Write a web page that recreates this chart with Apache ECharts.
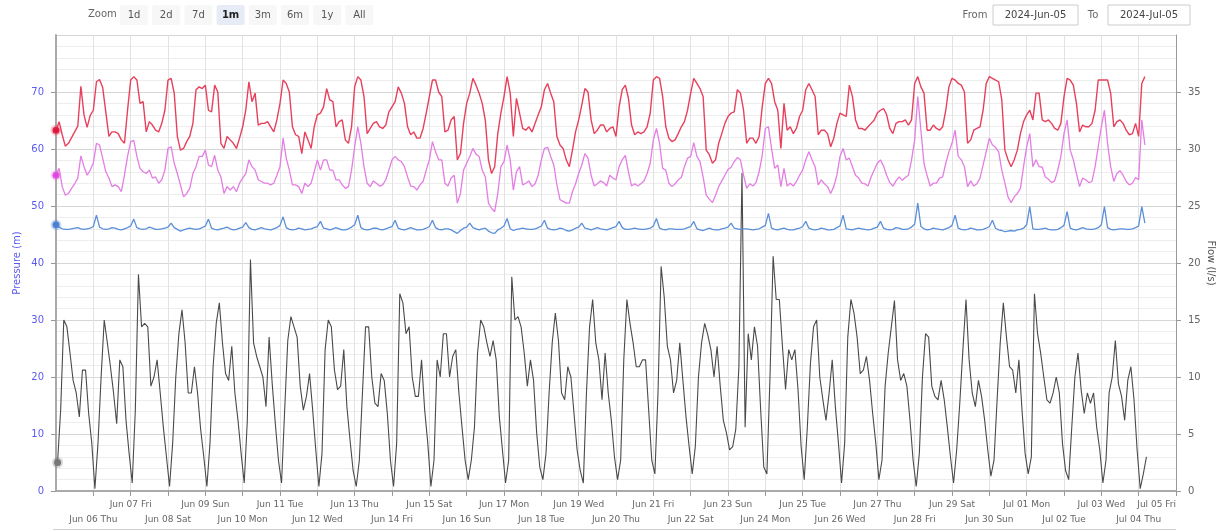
<!DOCTYPE html>
<html>
<head>
<meta charset="utf-8">
<script src="https://cdn.jsdelivr.net/npm/echarts@6/dist/echarts.min.js"></script>
<style>
html,body{margin:0;padding:0;background:#fff;}
#chart{width:1216px;height:531px;}
</style>
</head>
<body>
<div id="chart"></div>
<script>
// ---- time base ----
const startTime = Date.UTC(2024, 5, 5);   // 2024-Jun-05 00:00
const endTime = Date.UTC(2024, 6, 5);     // 2024-Jul-05 00:00
const DAY = 86400000;
const HOUR = 3600000;

// ---- tick labels (one per day tick) ----
const dayLabels = [
  'Jun 05 Wed','Jun 06 Thu','Jun 07 Fri','Jun 08 Sat','Jun 09 Sun','Jun 10 Mon','Jun 11 Tue',
  'Jun 12 Wed','Jun 13 Thu','Jun 14 Fri','Jun 15 Sat','Jun 16 Sun','Jun 17 Mon','Jun 18 Tue',
  'Jun 19 Wed','Jun 20 Thu','Jun 21 Fri','Jun 22 Sat','Jun 23 Sun','Jun 24 Mon','Jun 25 Tue',
  'Jun 26 Wed','Jun 27 Thu','Jun 28 Fri','Jun 29 Sat','Jun 30 Sun','Jul 01 Mon','Jul 02 Tue',
  'Jul 03 Wed','Jul 04 Thu','Jul 05 Fri'
];

// ---- pressure series (m), every 2 h from Jun 05 00:00 ----
const pressureRed = [
  63.3,64.8,62.5,60.5,61.0,62.0,63.0,64.0,71.0,66.0,63.8,65.9,
  66.8,71.8,72.2,70.8,66.5,62.2,63.0,63.0,62.7,61.6,61.0,66.8,
  72.1,72.7,72.1,68.0,68.3,63.0,64.8,64.2,63.3,63.0,64.5,66.8,
  72.1,72.4,69.8,62.2,59.8,60.1,61.3,62.2,64.5,70.4,70.9,70.6,
  71.2,66.8,66.5,71.2,70.0,61.0,60.1,62.2,61.6,61.0,60.1,61.9,
  63.9,66.8,71.8,68.3,69.8,64.2,64.5,64.5,64.8,63.9,63.0,65.1,
  68.0,72.1,71.5,70.0,63.9,62.5,62.2,59.2,63.0,61.6,60.1,63.9,
  66.0,66.3,67.4,70.6,68.6,68.3,63.9,64.8,65.1,61.6,61.0,63.9,
  70.9,72.7,72.1,69.2,62.7,63.6,64.5,64.8,63.9,63.6,64.2,66.5,
  67.4,68.3,70.9,69.8,68.0,63.9,62.5,63.0,61.9,61.9,63.6,66.3,
  69.2,72.1,72.1,70.0,69.2,63.0,63.3,65.1,65.7,58.1,59.2,64.5,
  68.0,69.8,72.4,71.2,69.8,68.0,65.0,58.1,55.7,56.9,62.7,66.3,
  69.2,72.7,69.8,62.2,68.9,66.3,63.6,63.3,63.9,63.0,64.5,66.0,
  67.4,70.4,71.5,69.8,68.3,62.2,60.7,60.1,58.1,56.9,59.8,63.0,
  65.1,67.7,70.6,70.0,65.1,62.7,63.3,64.2,64.2,63.0,63.6,63.9,
  62.2,67.4,70.4,71.2,68.9,64.2,62.5,63.0,62.7,63.0,63.9,66.3,
  72.1,72.7,72.4,69.2,63.9,61.9,61.3,61.6,62.7,63.9,64.8,66.8,
  69.8,72.4,71.5,70.6,69.2,59.8,59.0,57.5,58.1,61.0,62.7,64.5,
  65.7,66.3,66.5,70.4,69.8,66.8,61.0,61.9,61.9,61.0,62.2,67.4,
  71.5,72.4,71.5,68.3,66.8,60.1,68.0,63.3,63.9,62.7,63.6,65.7,
  66.8,70.4,71.5,70.4,69.2,62.5,63.3,63.3,62.7,60.4,61.9,64.5,
  66.3,66.0,65.7,71.2,69.2,65.1,63.6,63.6,63.3,63.9,64.5,65.1,
  66.3,66.8,67.1,66.0,63.6,62.7,64.5,64.8,64.8,65.1,64.2,65.1,
  71.5,72.7,70.9,69.8,63.3,63.3,64.2,63.6,63.3,63.9,66.8,70.9,
  72.4,72.1,71.5,71.2,70.0,61.0,61.6,63.3,63.6,63.9,66.8,71.5,
  72.7,72.4,72.1,71.8,68.6,59.8,58.1,56.9,58.1,59.8,62.7,64.8,
  66.0,66.8,65.1,69.8,69.8,65.1,64.8,65.1,64.5,63.6,63.3,64.5,
  69.2,72.4,72.1,71.2,68.0,63.0,64.2,63.9,63.9,64.5,66.8,72.1,
  72.1,72.1,72.1,69.8,63.9,64.8,65.1,64.5,63.3,62.5,62.7,64.5,
  62.2,71.5,72.7
];

const pressureMagenta = [
  55.4,56.6,53.4,51.9,52.2,53.1,53.9,54.9,58.8,56.9,55.4,56.3,
  57.5,61.0,60.7,58.4,56.0,54.9,53.4,53.7,53.4,52.5,55.4,58.7,
  61.3,61.5,58.7,56.6,56.0,55.7,56.3,54.9,55.1,54.0,54.6,56.3,
  60.1,60.4,57.5,55.7,53.7,51.6,52.2,53.1,55.7,56.9,58.7,58.7,
  59.8,57.2,56.9,58.9,56.3,55.1,52.2,53.4,52.8,53.4,52.5,54.0,
  54.9,55.7,58.1,56.9,56.3,54.6,54.3,54.0,54.0,53.7,54.0,55.4,
  56.9,61.9,58.4,56.3,53.7,53.7,53.4,52.2,54.0,53.4,54.0,56.0,
  58.1,56.3,58.1,58.1,56.3,56.3,54.6,54.6,53.7,53.1,53.4,56.3,
  60.4,63.9,61.0,56.9,54.0,53.4,54.4,54.0,53.5,53.7,54.6,56.3,
  58.1,58.7,58.1,57.8,56.9,55.1,53.5,53.4,52.8,53.7,54.3,56.3,
  58.1,61.3,59.5,58.1,58.1,54.0,53.5,54.9,55.4,50.5,52.2,56.3,
  57.5,58.7,60.1,59.1,58.7,56.3,55.1,50.5,49.6,49.0,52.2,56.9,
  57.8,60.7,58.1,52.8,56.0,56.9,53.7,54.0,54.4,53.4,53.9,55.4,
  58.1,60.1,60.3,58.7,57.2,53.7,51.1,50.8,50.5,50.5,52.5,53.9,
  55.7,57.2,59.2,58.4,55.4,53.5,53.9,54.4,54.1,53.5,55.4,54.9,
  54.6,56.9,58.1,58.9,56.0,53.5,53.9,53.5,53.9,54.4,55.7,57.5,
  61.6,63.6,61.0,56.6,56.3,54.0,53.4,53.9,54.6,55.0,56.9,58.4,
  58.7,61.1,58.7,57.8,55.1,51.9,51.2,50.6,51.9,53.4,54.4,55.4,
  56.4,56.8,57.8,58.5,58.1,55.4,53.1,53.9,53.5,54.1,56.0,58.9,
  63.6,63.9,60.1,56.6,57.2,53.4,56.6,53.5,54.0,53.5,54.3,55.4,
  56.3,58.1,59.5,58.1,56.9,53.7,54.6,53.9,53.4,52.2,53.4,55.4,
  58.7,60.1,58.1,58.4,56.9,55.4,54.9,54.0,53.9,53.5,55.1,56.3,
  57.5,58.1,57.0,55.4,54.1,53.5,54.4,55.1,54.5,55.0,55.4,58.1,
  61.6,69.2,63.3,57.5,55.3,53.5,54.0,54.0,54.9,55.1,57.5,59.5,
  61.0,63.3,58.7,58.1,56.9,53.4,54.4,53.5,53.9,54.9,57.2,59.5,
  61.9,60.7,60.3,59.5,56.3,54.0,51.6,50.6,51.6,52.2,53.1,56.9,
  60.4,62.7,56.9,58.1,56.9,56.8,55.1,54.7,54.1,54.4,56.3,58.7,
  62.7,65.1,59.8,58.1,55.7,53.4,54.9,54.6,54.1,54.3,56.9,60.4,
  63.9,66.8,61.0,56.9,54.3,55.7,56.2,55.4,54.3,53.7,54.0,55.0,
  54.6,65.1,60.7
];

const pressureBlue = [
  46.7,46.3,46.0,45.9,45.9,46.0,46.1,46.2,46.0,45.9,46.0,46.1,
  46.4,48.4,46.3,46.0,45.9,46.0,46.2,46.1,45.9,45.8,46.0,46.2,
  46.5,47.7,46.2,46.0,45.9,46.0,46.3,46.1,45.9,45.9,46.0,46.1,
  46.3,47.0,46.2,45.9,45.6,45.8,46.0,46.1,46.0,45.9,46.0,46.2,
  46.5,47.7,46.1,45.9,45.8,46.0,46.1,46.3,46.0,45.8,45.9,46.1,
  46.3,47.1,46.2,45.9,45.8,46.0,46.2,46.0,45.9,45.8,46.0,46.2,
  46.6,48.1,46.2,45.9,45.8,45.9,46.1,46.0,45.8,45.9,46.0,46.2,
  46.4,47.3,46.1,46.0,45.8,46.0,46.2,46.0,45.8,45.8,46.0,46.3,
  46.7,48.4,46.2,45.9,45.8,45.9,46.1,46.1,45.9,45.8,46.0,46.2,
  46.4,47.5,46.1,45.9,45.8,46.0,46.2,46.0,45.8,45.8,45.9,46.1,
  46.4,47.5,46.2,45.9,45.8,46.0,46.0,45.8,45.5,45.2,45.7,46.1,
  46.3,47.0,46.2,46.0,45.8,46.0,46.1,45.6,45.3,45.2,45.8,46.1,
  46.5,47.8,46.0,45.7,45.9,46.0,46.1,46.0,45.9,45.9,46.0,46.2,
  46.5,47.5,46.1,45.9,45.8,45.9,46.1,46.0,45.7,45.6,45.8,46.1,
  46.3,47.0,46.1,46.0,45.8,46.0,46.2,46.0,45.9,45.8,46.0,46.2,
  46.4,47.3,46.2,45.9,45.9,46.0,46.1,46.0,45.9,45.9,46.0,46.1,
  46.5,47.8,46.1,45.9,45.8,46.0,46.0,45.9,45.9,45.9,46.0,46.2,
  46.4,47.3,46.0,45.8,45.7,45.9,46.1,45.9,45.8,45.8,46.0,46.1,
  46.3,47.0,46.1,46.0,45.9,46.0,46.0,45.9,45.8,45.9,46.0,46.3,
  46.6,48.7,46.1,45.9,45.8,46.0,46.1,45.9,45.8,45.8,46.0,46.1,
  46.4,47.3,46.1,45.9,45.8,45.9,46.1,46.0,45.8,45.8,45.9,46.2,
  46.5,48.4,46.0,45.9,45.8,46.0,46.1,46.0,45.9,45.8,45.9,46.1,
  46.3,47.3,46.1,45.9,45.8,45.9,46.2,46.1,45.9,45.9,46.0,46.3,
  46.8,50.5,46.4,46.0,45.8,45.9,46.1,46.0,45.9,45.8,46.0,46.2,
  46.6,48.4,46.1,45.9,45.8,45.9,46.1,46.0,45.8,45.8,45.9,46.1,
  46.4,47.5,46.1,45.8,45.7,45.5,45.6,45.7,45.6,45.8,45.9,46.1,
  46.7,49.9,46.0,45.9,45.9,46.0,46.1,45.9,45.8,45.8,45.9,46.2,
  46.6,49.0,46.1,45.9,45.8,46.0,46.2,46.0,45.9,45.9,46.0,46.2,
  46.7,49.9,46.2,45.9,45.8,45.9,46.0,46.0,45.9,45.9,46.0,46.2,
  46.5,49.9,47.0
];

// ---- flow series (l/s), every 2 h from Jun 05 01:00 ----
const flowBlack = [
  2.5,7.1,15.0,14.4,12.1,9.7,8.6,6.5,10.6,10.6,6.8,4.2,
  0.2,4.2,10.0,15.0,13.0,10.9,8.6,5.9,11.5,10.9,6.2,3.3,
  0.7,7.1,19.0,14.4,14.7,14.4,9.2,10.0,11.5,8.6,5.6,3.0,
  0.4,4.2,10.0,13.8,15.9,13.0,8.6,8.6,10.9,8.6,5.4,3.0,
  0.4,4.2,10.9,14.7,16.5,13.0,10.3,9.7,12.7,8.6,6.2,3.3,
  0.7,6.2,20.3,13.0,11.8,10.9,10.0,7.4,13.5,9.4,5.9,2.7,
  0.7,7.1,13.2,15.3,14.4,13.5,9.2,7.1,8.3,10.3,7.1,3.6,
  0.4,3.3,12.4,15.0,14.4,10.6,8.9,9.2,12.4,7.4,4.5,1.8,
  0.4,2.7,8.6,14.4,14.4,10.0,7.7,7.4,10.3,9.7,6.8,2.7,
  0.4,4.2,17.3,16.5,13.8,14.4,10.0,8.3,8.3,11.5,7.1,4.2,
  0.4,2.7,11.5,10.0,13.8,13.8,10.0,11.8,12.4,8.6,5.6,2.7,
  1.0,2.7,5.6,12.1,15.0,14.4,13.0,11.8,13.2,11.5,6.5,3.6,
  0.7,2.7,18.8,15.0,15.3,14.4,12.1,9.2,11.5,9.7,5.1,2.1,
  1.0,3.3,8.6,13.0,15.6,13.2,8.6,8.0,10.9,10.0,6.8,3.6,
  1.8,0.7,8.6,14.4,16.8,13.0,11.5,8.0,12.1,8.6,6.2,3.0,
  1.0,2.7,11.5,16.8,14.7,13.0,10.9,10.9,11.5,11.5,7.1,2.7,
  1.5,8.6,19.7,17.0,12.7,11.5,8.6,9.7,13.0,9.7,6.5,3.9,
  1.5,3.9,10.0,13.0,14.7,13.7,12.4,10.0,12.7,9.2,6.2,5.1,
  3.6,3.9,5.4,10.9,27.9,5.6,13.8,11.5,14.4,12.7,7.1,2.1,
  1.5,10.0,20.6,16.8,16.8,12.7,8.9,12.4,11.5,12.4,8.9,3.9,
  1.0,5.6,11.2,14.4,15.0,10.0,8.0,6.2,8.6,11.5,7.4,4.2,
  0.7,4.2,13.5,16.8,15.6,13.5,10.3,10.6,11.8,9.7,6.8,4.2,
  1.0,2.7,9.2,12.1,14.4,16.7,11.5,9.7,10.3,9.2,6.2,2.7,
  0.4,3.3,10.0,13.8,13.5,9.2,8.3,8.0,9.7,8.0,5.6,3.0,
  0.7,3.6,7.7,12.4,16.8,11.5,8.6,7.4,9.7,8.3,6.2,3.6,
  1.3,2.7,8.0,13.0,16.5,13.5,10.9,10.6,8.6,11.5,7.1,3.3,
  1.5,3.0,17.3,13.8,12.1,10.0,8.0,7.7,8.6,10.0,8.6,4.2,
  1.8,1.0,5.6,10.0,12.1,8.9,6.8,8.6,7.7,8.6,5.6,3.6,
  0.7,2.7,8.6,10.0,13.2,9.4,8.3,6.2,9.7,10.9,8.0,3.6,
  0.2,1.5,3.0
];

// ---- zoom buttons / range inputs text ----
const zoomButtons = ['1d','2d','7d','1m','3m','6m','1y','All'];
const selectedButton = '1m';
const rangeFrom = '2024-Jun-05';
const rangeTo = '2024-Jul-05';

// ---- build series data ----
function evenSeries(vals){ return vals.map((v,i)=>[startTime + i*2*HOUR, v]); }
function oddSeries(vals){ return vals.map((v,i)=>[startTime + HOUR + i*2*HOUR, v]); }

const COL = {red:'#e8405c', magenta:'#e47de4', blue:'#5a8fda', black:'#4a4a4a'};
const FONT = 'DejaVu Sans';
const AXIS_BLUE = '#5a5af2';

function firstMarker(color, halo, x, y){
  return {
    symbol:'circle', symbolSize:7, silent:true, label:{show:false},
    itemStyle:{color:color, borderColor:halo, borderWidth:4},
    data:[{coord:[x, y]}]
  };
}

function lineSeries(name, data, color, axis, width, marker){
  return {
    name:name, type:'line', xAxisIndex:0, yAxisIndex:axis, data:data, showSymbol:false,
    lineStyle:{color:color, width:width}, itemStyle:{color:color},
    animation:false, markPoint:marker
  };
}

const redData = evenSeries(pressureRed);
const magData = evenSeries(pressureMagenta);
const blueData = evenSeries(pressureBlue);
const blackData = oddSeries(flowBlack);

// ---- graphics: range selector chrome ----
const graphics = [];
graphics.push({type:'text', left:88, top:9, style:{text:'Zoom', fill:'#666', font:'10px ' + FONT}});
zoomButtons.forEach((b,i)=>{
  const cx = 134 + i*32.2;
  const sel = b === selectedButton;
  graphics.push({type:'rect', shape:{x:cx-14, y:5, width:28, height:20, r:2},
    style:{fill: sel ? '#e6ebf5' : '#f7f7f7', stroke:null}});
  graphics.push({type:'text', x:cx, y:15, style:{text:b, fill: sel ? '#222' : '#555',
    font:(sel ? 'bold ' : '') + '10px ' + FONT, align:'center', verticalAlign:'middle'}});
});
graphics.push({type:'text', x:975, y:15, style:{text:'From', fill:'#666', font:'10px ' + FONT, align:'center', verticalAlign:'middle'}});
graphics.push({type:'rect', shape:{x:993, y:5, width:85, height:20}, style:{fill:'#fff', stroke:'#ccc', lineWidth:1}});
graphics.push({type:'text', x:1035.5, y:15, style:{text:rangeFrom, fill:'#444', font:'10px ' + FONT, align:'center', verticalAlign:'middle'}});
graphics.push({type:'text', x:1093, y:15, style:{text:'To', fill:'#666', font:'10px ' + FONT, align:'center', verticalAlign:'middle'}});
graphics.push({type:'rect', shape:{x:1108, y:5, width:82, height:20}, style:{fill:'#fff', stroke:'#ccc', lineWidth:1}});
graphics.push({type:'text', x:1149, y:15, style:{text:rangeTo, fill:'#444', font:'10px ' + FONT, align:'center', verticalAlign:'middle'}});
graphics.push({type:'line', shape:{x1:53, y1:529.5, x2:1176, y2:529.5}, style:{stroke:'#d0d0d0', lineWidth:1}});

function rowLabel(parity){
  return function(v){
    const k = Math.round((v - startTime)/DAY);
    return (k % 2 === parity) ? (dayLabels[k] || '') : '';
  };
}

const chart = echarts.init(document.getElementById('chart'), null, {renderer:'canvas'});
chart.setOption({
  animation:false,
  backgroundColor:'#fff',
  textStyle:{fontFamily:FONT},
  grid:{left:56, right:40, top:35, bottom:40, containLabel:false, outerBoundsMode:'none'},
  xAxis:[
    {
      type:'value', position:'bottom', min:startTime, max:endTime, interval:DAY,
      axisLine:{show:true, onZero:false, lineStyle:{color:'#aaaaaa', width:2}},
      axisTick:{show:true, length:5, lineStyle:{color:'#999'}},
      axisLabel:{
        showMinLabel:false, showMaxLabel:true, alignMaxLabel:'right', hideOverlap:false,
        color:'#666', fontSize:9, fontFamily:FONT, margin:9,
        formatter:rowLabel(0)
      },
      splitLine:{show:true, lineStyle:{color:'#e2e2e2', width:1}}
    },
    {
      type:'value', position:'bottom', offset:0, min:startTime, max:endTime, interval:DAY,
      axisLine:{show:false, onZero:false},
      axisTick:{show:false},
      axisLabel:{
        showMinLabel:false, showMaxLabel:false, hideOverlap:false,
        color:'#666', fontSize:9, fontFamily:FONT, margin:24,
        formatter:rowLabel(1)
      },
      splitLine:{show:false}
    }
  ],
  yAxis:[
    {
      type:'value', position:'left', min:0, max:80, interval:10,
      name:'Pressure (m)', nameLocation:'middle', nameGap:34, nameMoveOverlap:false,
      nameTextStyle:{color:AXIS_BLUE, fontSize:10, fontFamily:FONT},
      axisLine:{show:true, lineStyle:{color:'#aaaaaa', width:2}},
      axisTick:{show:true, length:5, lineStyle:{color:'#999'}},
      axisLabel:{color:AXIS_BLUE, fontSize:10, fontFamily:FONT, margin:12, showMaxLabel:false},
      splitLine:{show:true, lineStyle:{color:'#d6d6d6', width:1}},
      minorTick:{show:false, splitNumber:5},
      minorSplitLine:{show:true, lineStyle:{color:'#ededed', width:1}}
    },
    {
      type:'value', position:'right', min:0, max:40, interval:5,
      name:'Flow (l/s)', nameLocation:'middle', nameGap:30, nameRotate:-90, nameMoveOverlap:false,
      nameTextStyle:{color:'#555', fontSize:10, fontFamily:FONT},
      axisLine:{show:true, lineStyle:{color:'#999', width:1}},
      axisTick:{show:true, length:5, lineStyle:{color:'#999'}},
      axisLabel:{color:'#666', fontSize:10, fontFamily:FONT, margin:12, showMaxLabel:false},
      splitLine:{show:false}
    }
  ],
  series:[
    lineSeries('Flow', blackData, COL.black, 1, 1.1,
      firstMarker('#777', 'rgba(120,120,120,0.3)', blackData[0][0], blackData[0][1])),
    lineSeries('Pressure 3', blueData, COL.blue, 0, 1.3,
      firstMarker('#4a7fd0', 'rgba(90,143,218,0.3)', blueData[0][0], blueData[0][1])),
    lineSeries('Pressure 2', magData, COL.magenta, 0, 1.3,
      firstMarker('#e040e0', 'rgba(228,125,228,0.3)', magData[0][0], magData[0][1])),
    lineSeries('Pressure 1', redData, COL.red, 0, 1.4,
      firstMarker('#e0103a', 'rgba(232,64,92,0.3)', redData[0][0], redData[0][1]))
  ],
  graphic:graphics
});
</script>
</body>
</html>
